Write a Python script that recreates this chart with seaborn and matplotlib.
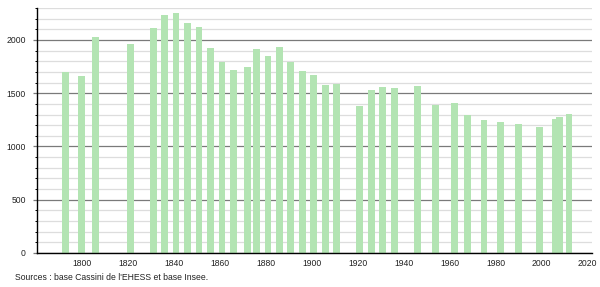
import matplotlib
matplotlib.use("Agg")
import matplotlib.pyplot as plt
import seaborn as sns
import pandas as pd

years = [1793, 1800, 1806, 1821, 1831, 1836, 1841, 1846, 1851, 1856, 1861, 1866,
         1872, 1876, 1881, 1886, 1891, 1896, 1901, 1906, 1911, 1921, 1926, 1931,
         1936, 1946, 1954, 1962, 1968, 1975, 1982, 1990, 1999, 2006, 2008, 2012]
population = [1700, 1660, 2028, 1962, 2113, 2236, 2252, 2157, 2123, 1925, 1792, 1717,
              1748, 1915, 1846, 1934, 1795, 1707, 1670, 1575, 1585, 1384, 1528, 1560,
              1553, 1566, 1393, 1406, 1292, 1248, 1233, 1208, 1182, 1255, 1277, 1302]
x_ticks = list(range(1800, 2021, 20))
y_ticks = [0, 500, 1000, 1500, 2000]
source_text = "Sources : base Cassini de l'EHESS et base Insee."

df = pd.DataFrame({"year": years, "population": population})

sns.set_style("white")
plt.rcParams["font.family"] = ["Liberation Sans", "DejaVu Sans"]

fig = plt.figure(figsize=(6.0, 2.87), dpi=100)
ax = fig.add_axes([37 / 600, 1 - 253 / 287, (592 - 37) / 600, (253 - 8) / 287])

sns.barplot(data=df, x="year", y="population", native_scale=True, width=1.5,
            color="#b3e4b3", saturation=1, edgecolor="none", linewidth=0, ax=ax)

ax.set_xlim(1780.5, 2022)
ax.set_ylim(0, 2300)
ax.set_xticks(x_ticks)
ax.set_xticklabels([str(t) for t in x_ticks], fontsize=6.2)
ax.set_yticks(y_ticks)
ax.set_yticklabels([str(t) for t in y_ticks], fontsize=6.2)
ax.set_yticks(list(range(100, 2301, 100)), minor=True)
ax.set_axisbelow(True)
ax.grid(axis="y", which="minor", color="#dddddd", linewidth=0.9)
ax.grid(axis="y", which="major", color="#7a7a7a", linewidth=0.9)
ax.grid(axis="x", visible=False)
ax.tick_params(axis="x", bottom=False, length=0, pad=4, colors="#222222")
ax.tick_params(axis="y", which="major", left=True, length=3, width=0.9,
               pad=5, colors="#222222")
ax.tick_params(axis="y", which="minor", left=True, length=1.6, width=0.7,
               color="black")
ax.tick_params(axis="y", which="major", color="#7a7a7a")
for s in ["top", "right"]:
    ax.spines[s].set_visible(False)
for s in ["left", "bottom"]:
    ax.spines[s].set_color("black")
    ax.spines[s].set_linewidth(1.0)
ax.set_xlabel("")
ax.set_ylabel("")

fig.text(15 / 600, 1 - 278 / 287, source_text, fontsize=6.2, va="center", ha="left",
         color="#222222")

fig.savefig("out.png", dpi=100)
